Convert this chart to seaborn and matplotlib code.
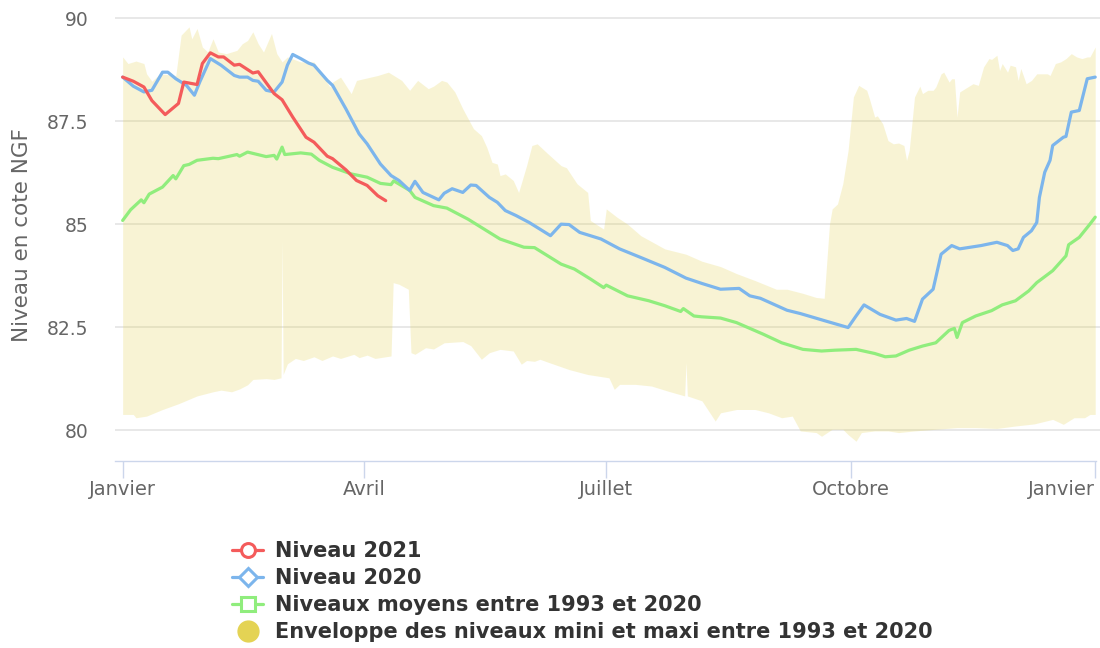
import matplotlib
matplotlib.use('Agg')
import matplotlib.pyplot as plt
from matplotlib.lines import Line2D
import numpy as np
import seaborn as sns

# jours depuis le 1er janvier (2020 bissextile)
days_2021 = [0, 4, 8, 11, 16, 21, 23, 28, 30, 33, 36, 38, 42, 44, 49, 51, 57, 60,
             64, 69, 72, 77, 79, 84, 88, 92, 96, 99]
level_2021 = [88.57, 88.47, 88.33, 88.0, 87.66, 87.93, 88.45, 88.39, 88.9, 89.16,
              89.06, 89.06, 88.86, 88.88, 88.67, 88.70, 88.17, 88.02, 87.6, 87.11,
              86.99, 86.65, 86.59, 86.32, 86.06, 85.94, 85.69, 85.57]

days_2020 = [0, 4, 8, 11, 15, 17, 20, 24, 27, 29, 33, 37, 42, 44, 47, 49, 51, 54, 57,
             60, 62, 64, 67, 70, 72, 77, 79, 84, 89, 92, 97, 101, 104, 108, 110, 113,
             119, 121, 124, 128, 131, 133, 138, 141, 144, 148, 153, 158, 161, 165, 168,
             172, 180, 187, 195, 204, 212, 218, 225, 232, 236, 240, 250, 255, 265, 273,
             276, 279, 285, 291, 295, 298, 301, 305, 308, 312, 315, 323, 329, 333, 335,
             337, 339, 342, 344, 345, 347, 349, 350, 354, 355, 357, 360, 363, 366]
level_2020 = [88.57, 88.35, 88.21, 88.25, 88.69, 88.69, 88.53, 88.37, 88.13, 88.45,
              89.02, 88.86, 88.61, 88.57, 88.57, 88.49, 88.47, 88.25, 88.21, 88.45,
              88.86, 89.12, 89.02, 88.91, 88.86, 88.49, 88.37, 87.80, 87.19, 86.95,
              86.46, 86.18, 86.06, 85.82, 86.04, 85.77, 85.59, 85.75, 85.86, 85.77,
              85.95, 85.94, 85.65, 85.53, 85.33, 85.21, 85.04, 84.84, 84.72, 85.0,
              84.99, 84.80, 84.64, 84.40, 84.19, 83.95, 83.69, 83.56, 83.42, 83.44,
              83.26, 83.20, 82.91, 82.83, 82.64, 82.49, 82.77, 83.04, 82.81, 82.67,
              82.71, 82.64, 83.18, 83.42, 84.27, 84.48, 84.40, 84.48, 84.56, 84.48,
              84.36, 84.40, 84.68, 84.84, 85.04, 85.65, 86.26, 86.55, 86.91, 87.11,
              87.13, 87.72, 87.76, 88.53, 88.57]

days_mean = [0, 3, 7, 8, 10, 15, 19, 20, 23, 25, 28, 34, 36, 43, 44, 47, 54, 57, 58,
             60, 61, 67, 71, 74, 79, 86, 92, 97, 101, 102, 108, 110, 117, 122, 130,
             136, 142, 151, 155, 165, 170, 176, 181, 182, 190, 198, 204, 210, 211, 215,
             218, 225, 231, 241, 248, 256, 263, 268, 276, 283, 287, 291, 296, 301, 306,
             311, 313, 314, 316, 321, 327, 331, 336, 341, 344, 350, 355, 356, 360, 364,
             366]
level_mean = [85.09, 85.35, 85.59, 85.52, 85.73, 85.90, 86.18, 86.10, 86.42, 86.45,
              86.55, 86.60, 86.59, 86.69, 86.65, 86.75, 86.64, 86.67, 86.58, 86.87,
              86.69, 86.73, 86.70, 86.55, 86.38, 86.22, 86.14, 85.99, 85.96, 86.05,
              85.82, 85.65, 85.45, 85.39, 85.12, 84.88, 84.64, 84.44, 84.43, 84.03,
              83.91, 83.67, 83.46, 83.52, 83.26, 83.14, 83.02, 82.88, 82.95, 82.77,
              82.75, 82.72, 82.61, 82.33, 82.12, 81.96, 81.92, 81.94, 81.96, 81.86,
              81.78, 81.80, 81.94, 82.04, 82.12, 82.42, 82.47, 82.25, 82.61, 82.77,
              82.90, 83.04, 83.14, 83.38, 83.58, 83.87, 84.23, 84.50, 84.68, 85.00,
              85.17]

days_max = [0, 2, 5, 8, 9, 11, 14, 20, 22, 25, 26, 28, 30, 32, 34, 36, 39, 43, 45, 47,
            49, 51, 53, 56, 58, 60, 62, 67, 72, 78, 79, 82, 86, 88, 96, 100, 105, 108,
            111, 115, 117, 120, 122, 125, 128, 132, 135, 137, 139, 141, 142, 144, 147,
            149, 152, 154, 156, 160, 165, 167, 171, 175, 176, 181, 182, 186, 190, 195,
            204, 212, 218, 225, 231, 238, 246, 250, 256, 261, 264, 266, 267, 269, 271,
            273, 275, 277, 280, 281, 283, 284, 286, 288, 290, 292, 294, 295, 296, 298,
            300, 301, 303, 305, 306, 308, 309, 311, 312, 313, 314, 315, 317, 320, 322,
            324, 326, 327, 329, 330, 331, 333, 334, 336, 337, 338, 340, 342, 344, 348,
            349, 351, 353, 355, 357, 359, 361, 363, 364, 366]
level_max = [89.06, 88.9, 88.96, 88.9, 88.65, 88.47, 88.65, 88.61, 89.59, 89.79, 89.5,
             89.75, 89.30, 89.18, 89.5, 89.18, 89.14, 89.22, 89.38, 89.46, 89.67, 89.38,
             89.18, 89.63, 89.14, 88.94, 89.06, 88.94, 88.94, 88.33, 88.45, 88.57, 88.17,
             88.49, 88.61, 88.69, 88.49, 88.25, 88.49, 88.29, 88.35, 88.49, 88.45, 88.21,
             87.80, 87.32, 87.15, 86.87, 86.50, 86.46, 86.18, 86.22, 86.06, 85.77, 86.42,
             86.91, 86.95, 86.71, 86.42, 86.37, 85.98, 85.77, 85.09, 84.88, 85.37, 85.17,
             85.0, 84.72, 84.40, 84.27, 84.10, 83.97, 83.80, 83.63, 83.42, 83.42, 83.32,
             83.22, 83.20, 85.0, 85.37, 85.49, 85.98, 86.79, 88.09, 88.37, 88.25, 88.05,
             87.60, 87.63, 87.44, 87.03, 86.95, 86.97, 86.91, 86.55, 86.79, 88.09, 88.35,
             88.17, 88.25, 88.25, 88.33, 88.65, 88.69, 88.45, 88.53, 88.53, 87.60, 88.21,
             88.29, 88.41, 88.37, 88.82, 89.02, 89.0, 89.10, 88.73, 88.9, 88.69, 88.86,
             88.82, 88.49, 88.78, 88.41, 88.49, 88.65, 88.65, 88.61, 88.90, 88.94, 89.02,
             89.14, 89.06, 89.02, 89.06, 89.06, 89.30]

days_min = [0, 4, 5, 9, 15, 21, 28, 34, 37, 41, 44, 47, 49, 54, 57, 59.6, 60, 60.4, 62,
            65, 68, 72, 75, 79, 82, 87, 89, 92, 95, 101, 101.8, 104, 107.5, 108.5, 110,
            114, 117, 121, 128, 131, 135, 138, 142, 147, 150, 152, 155, 157, 160, 168,
            175, 183, 185, 187, 193, 199, 205, 211.5, 212, 212.5, 218, 223, 225, 231,
            238, 243, 248, 252, 255, 261, 263, 267, 271, 273, 276, 278, 283, 288, 292,
            298, 306, 314, 321, 329, 336, 343, 350, 354, 358, 362, 364, 366]
level_min = [80.38, 80.38, 80.30, 80.34, 80.50, 80.64, 80.83, 80.93, 80.97, 80.93, 81.0,
             81.10, 81.23, 81.25, 81.23, 81.27, 84.6, 81.35, 81.61, 81.74, 81.69, 81.78,
             81.69, 81.80, 81.74, 81.84, 81.76, 81.82, 81.74, 81.80, 83.58, 83.54, 83.42,
             81.88, 81.84, 82.0, 81.97, 82.12, 82.15, 82.05, 81.72, 81.88, 81.96, 81.92,
             81.60, 81.69, 81.67, 81.72, 81.65, 81.47, 81.35, 81.27, 80.99, 81.11, 81.11,
             81.07, 80.95, 80.83, 81.64, 80.83, 80.71, 80.22, 80.42, 80.50, 80.50, 80.42,
             80.30, 80.34, 79.98, 79.94, 79.85, 80.02, 80.02, 79.89, 79.73, 79.94, 79.98,
             79.98, 79.94, 79.98, 80.02, 80.06, 80.06, 80.04, 80.10, 80.15, 80.26, 80.14,
             80.30, 80.30, 80.38, 80.38]

month_ticks = [0, 91, 182, 274, 366]
month_labels = ['Janvier', 'Avril', 'Juillet', 'Octobre', 'Janvier']
y_ticks = [80, 82.5, 85, 87.5, 90]
y_labels = ['80', '82.5', '85', '87.5', '90']

red = '#f45b5b'
blue = '#7cb5ec'
green = '#90ed7d'
yellow = '#e4d354'

sns.set_style('white')
plt.rcParams['font.family'] = ['DejaVu Sans']

fig = plt.figure(figsize=(11, 6.48), dpi=100)
ax = fig.add_axes([0.1045, 0.2886, 0.8955, 0.6960])

ax.grid(axis='y', color='#e6e6e6', linewidth=1.3)
ax.set_axisbelow(True)

# enveloppe mini / maxi sur les jours des deux series
env_x = sorted(set(days_max) | set(days_min))
env_hi = np.interp(env_x, days_max, level_max)
env_lo = np.interp(env_x, days_min, level_min)
ax.fill_between(env_x, env_lo, env_hi, color=yellow, alpha=0.25, linewidth=0)

sns.lineplot(x=days_mean, y=level_mean, ax=ax, color=green, linewidth=2.3)
sns.lineplot(x=days_2020, y=level_2020, ax=ax, color=blue, linewidth=2.3)
sns.lineplot(x=days_2021, y=level_2021, ax=ax, color=red, linewidth=2.3)

ax.set_xlim(-2.9, 367.8)
ax.set_ylim(79.25, 90.2)
ax.set_xticks(month_ticks)
ax.set_xticklabels(month_labels)
ax.get_xticklabels()[-1].set_ha('right')
ax.set_yticks(y_ticks)
ax.set_yticklabels(y_labels)

for side in ['top', 'right', 'left']:
    ax.spines[side].set_visible(False)
ax.spines['bottom'].set_color('#ccd6eb')
ax.spines['bottom'].set_linewidth(1)
ax.spines['bottom'].set_bounds(-2.9, 366.3)

ax.tick_params(axis='x', length=12, width=1, color='#ccd6eb', labelcolor='#666666',
               labelsize=14, pad=2, direction='out', bottom=True)
ax.tick_params(axis='y', length=0, labelcolor='#666666', labelsize=13.5, pad=19)
ax.set_xlabel('')
ax.set_ylabel('Niveau en cote NGF', color='#666666', fontsize=15.5, labelpad=11)

handles = [
    Line2D([], [], color=red, lw=2.3, marker='o', markersize=10,
           markerfacecolor='white', markeredgecolor=red, markeredgewidth=2.2),
    Line2D([], [], color=blue, lw=2.3, marker='D', markersize=9,
           markerfacecolor='white', markeredgecolor=blue, markeredgewidth=2.2),
    Line2D([], [], color=green, lw=2.3, marker='s', markersize=9.5,
           markerfacecolor='white', markeredgecolor=green, markeredgewidth=2.2),
    Line2D([], [], color=yellow, lw=0, marker='o', markersize=15),
]
labels = ['Niveau 2021', 'Niveau 2020', 'Niveaux moyens entre 1993 et 2020',
          'Enveloppe des niveaux mini et maxi entre 1993 et 2020']
leg = fig.legend(handles, labels, loc='upper left', bbox_to_anchor=(0.211, 0.165),
                 frameon=False, handlelength=1.5, handletextpad=0.55,
                 labelspacing=0.34, borderpad=0, borderaxespad=0,
                 prop={'weight': 'bold', 'size': 15})
for t in leg.get_texts():
    t.set_color('#333333')

fig.savefig('out.png', dpi=100)
